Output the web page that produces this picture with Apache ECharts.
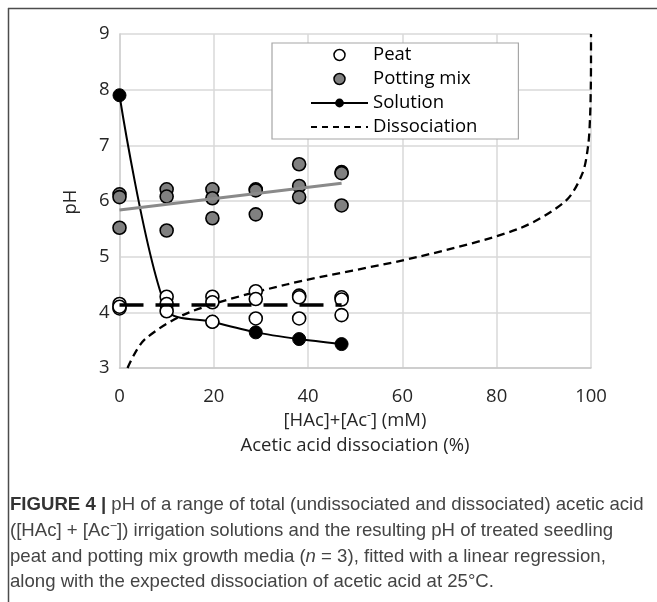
<!DOCTYPE html>
<html>
<head>
<meta charset="utf-8">
<script src="https://cdn.jsdelivr.net/npm/echarts@6/dist/echarts.min.js"></script>
<style>
html,body{margin:0;padding:0;background:#fff;}
#chart{width:657px;height:602px;}
</style>
</head>
<body>
<div id="chart"></div>
<script>
// ---- data ----
const concentration = [0, 10, 19.7, 28.9, 38.1, 47.1];           // [HAc]+[Ac-] (mM)
const solutionPH = [7.90, 4.05, 3.83, 3.64, 3.52, 3.43];
const peatPH = [
  [4.15, 4.07, 4.10],
  [4.28, 4.15, 4.02],
  [4.28, 4.18, 3.83],
  [4.38, 4.24, 3.89],
  [4.30, 4.27, 3.89],
  [4.27, 4.23, 3.95]
];
const pottingPH = [
  [6.12, 6.07, 5.52],
  [6.21, 6.08, 5.47],
  [6.21, 6.05, 5.69],
  [6.21, 6.19, 5.76],
  [6.66, 6.27, 6.07],
  [6.52, 6.50, 5.92]
];
const fitX = [0, 47.1];
const peatFitPH = [4.13, 4.13];
const pottingFitPH = [5.84, 6.32];
const dissociationPct = [1.7, 5.2, 14.8, 35.4, 63.5, 84.6, 94.6, 98.2, 99.4, 99.8, 99.95, 100, 100];
const dissociationPH = [3, 3.5, 4, 4.5, 5, 5.5, 6, 6.5, 7, 7.5, 8, 8.5, 9];
const xTicks = {min: 0, max: 100, interval: 20};
const yTicks = {min: 3, max: 9, interval: 1};
const legendNames = ['Peat', 'Potting mix', 'Solution', 'Dissociation'];

// ---- build series data ----
const zip = (xs, ys) => xs.map((x, i) => [x, ys[i]]);
const expand = (rows) => {
  const out = [];
  rows.forEach((r, i) => r.forEach(v => out.push([concentration[i], v])));
  return out;
};

const FONT = 'Open Sans';
const CAP = 'Liberation Sans';

const chart = echarts.init(document.getElementById('chart'), null, {renderer: 'canvas'});
chart.setOption({
  animation: false,
  backgroundColor: '#fff',
  grid: {left: 119.5, right: 66, top: 34, bottom: 234, containLabel: false},
  xAxis: {
    type: 'value', min: xTicks.min, max: xTicks.max, interval: xTicks.interval,
    axisLine: {show: true, lineStyle: {color: '#c8c8c8', width: 1.5}},
    axisTick: {show: false},
    splitLine: {show: true, lineStyle: {color: '#d9d9d9', width: 1.5}},
    axisLabel: {fontFamily: FONT, fontSize: 18.5, color: '#262626', margin: 19}
  },
  yAxis: {
    type: 'value', min: yTicks.min, max: yTicks.max, interval: yTicks.interval,
    axisLine: {show: true, lineStyle: {color: '#d0d0d0', width: 1.5}},
    axisTick: {show: false},
    splitLine: {show: true, lineStyle: {color: '#d9d9d9', width: 1.5}},
    axisLabel: {fontFamily: FONT, fontSize: 18.5, color: '#262626', margin: 10}
  },
  legend: {
    left: 272, top: 43, orient: 'vertical',
    itemWidth: 57, itemHeight: 11, itemGap: 0,
    padding: [0, 41, 0, 38],
    backgroundColor: '#fff', borderColor: '#a6a6a6', borderWidth: 1.2,
    selectedMode: false,
    textStyle: {fontFamily: FONT, fontSize: 18.5, color: '#000', lineHeight: 24},
    data: [
      {name: legendNames[0], icon: 'circle', itemStyle: {color: '#fff', borderColor: '#000', borderWidth: 1.5}},
      {name: legendNames[1], icon: 'circle', itemStyle: {color: '#808080', borderColor: '#000', borderWidth: 1.5}},
      {name: legendNames[2], itemStyle: {color: '#000', borderWidth: 0}, lineStyle: {color: '#000', width: 2, type: 'solid'}},
      {name: legendNames[3], itemStyle: {opacity: 0}, lineStyle: {color: '#000', width: 2, type: [6, 5]}}
    ]
  },
  series: [
    {
      name: legendNames[3], type: 'line', data: zip(dissociationPct, dissociationPH),
      smooth: 0.3, symbol: 'none', showSymbol: false, z: 1,
      lineStyle: {color: '#000', width: 2.3, type: [8, 5]}, itemStyle: {color: '#000'}
    },
    {
      name: legendNames[2], type: 'line', data: zip(concentration, solutionPH),
      smooth: 0.28, symbol: 'circle', symbolSize: 13, z: 2,
      lineStyle: {color: '#000', width: 2}, itemStyle: {color: '#000', borderColor: '#000', borderWidth: 1}
    },
    {
      name: legendNames[0], type: 'scatter', data: expand(peatPH),
      symbol: 'circle', symbolSize: 13, z: 3,
      itemStyle: {color: '#fff', borderColor: '#000', borderWidth: 1.6, opacity: 1}
    },
    {
      name: legendNames[1], type: 'scatter', data: expand(pottingPH),
      symbol: 'circle', symbolSize: 13, z: 3,
      itemStyle: {color: '#808080', borderColor: '#000', borderWidth: 1.6, opacity: 1}
    },
    {
      name: 'Peat fit', type: 'line', data: zip(fitX, peatFitPH),
      symbol: 'none', showSymbol: false, z: 4,
      lineStyle: {color: '#000', width: 3.5, type: [24, 12]}
    },
    {
      name: 'Potting mix fit', type: 'line', data: zip(fitX, pottingFitPH),
      symbol: 'none', showSymbol: false, z: 4,
      lineStyle: {color: '#8a8a8a', width: 3}
    }
  ],
  graphic: [
    {type: 'line', shape: {x1: 8, y1: 8.5, x2: 657, y2: 8.5}, style: {stroke: '#4d4d4d', lineWidth: 1.5}, silent: true},
    {type: 'line', shape: {x1: 8.5, y1: 8, x2: 8.5, y2: 602}, style: {stroke: '#4d4d4d', lineWidth: 1.5}, silent: true},
    {type: 'text', x: 71, y: 202, rotation: Math.PI / 2,
     style: {text: 'pH', fontFamily: FONT, fontSize: 18.5, fill: '#262626', align: 'center', verticalAlign: 'middle'}},
    {type: 'text', x: 355, y: 421,
     style: {text: '{a|[HAc]+[Ac}{s|-}{a|] (mM)}', align: 'center', verticalAlign: 'middle',
       rich: {a: {fontFamily: FONT, fontSize: 18.5, fill: '#262626', lineHeight: 22},
              s: {fontFamily: FONT, fontSize: 12, fill: '#262626', lineHeight: 22, verticalAlign: 'top'}}}},
    {type: 'text', x: 355, y: 446,
     style: {text: 'Acetic acid dissociation (%)', fontFamily: FONT, fontSize: 18.5, fill: '#262626', align: 'center', verticalAlign: 'middle'}},
    {type: 'text', x: 10, y: 505,
     style: {text: '{b|FIGURE 4 |}{r| pH of a range of total (undissociated and dissociated) acetic acid}', verticalAlign: 'middle',
       rich: {b: {fontFamily: CAP, fontSize: 18.6, fontWeight: 'bold', fill: '#333'},
              r: {fontFamily: CAP, fontSize: 18.6, fill: '#444'}}}},
    {type: 'text', x: 10, y: 531,
     style: {text: '{r|([HAc] + [Ac}{s|\u2212}{r|]) irrigation solutions and the resulting pH of treated seedling}', verticalAlign: 'middle',
       rich: {r: {fontFamily: CAP, fontSize: 18.6, fill: '#444', lineHeight: 22},
              s: {fontFamily: CAP, fontSize: 12.5, fill: '#444', lineHeight: 22, verticalAlign: 'top'}}}},
    {type: 'text', x: 10, y: 557,
     style: {text: '{r|peat and potting mix growth media (}{i|n}{r| = 3), fitted with a linear regression,}', verticalAlign: 'middle',
       rich: {r: {fontFamily: CAP, fontSize: 18.6, fill: '#444'},
              i: {fontFamily: CAP, fontSize: 18.6, fontStyle: 'italic', fill: '#444'}}}},
    {type: 'text', x: 10, y: 582,
     style: {text: 'along with the expected dissociation of acetic acid at 25\u00b0C.', fontFamily: CAP, fontSize: 18.6, fill: '#444', verticalAlign: 'middle'}}
  ]
});
</script>
</body>
</html>
